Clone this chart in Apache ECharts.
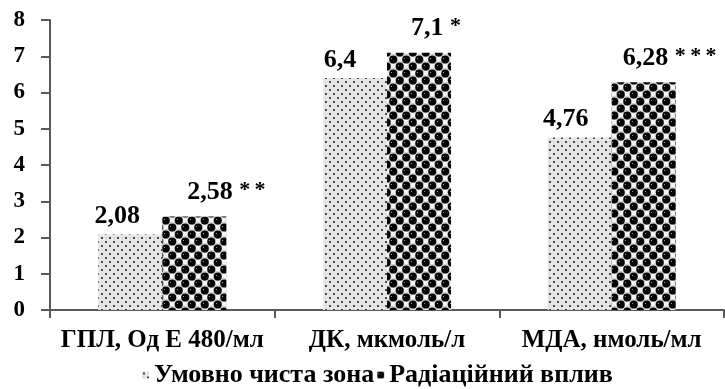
<!DOCTYPE html>
<html>
<head>
<meta charset="utf-8">
<script src="https://cdn.jsdelivr.net/npm/echarts@6/dist/echarts.min.js"></script>
<style>
html,body{margin:0;padding:0;background:#fff;}
#chart{width:725px;height:389px;}
</style>
</head>
<body>
<div id="chart"></div>
<script>
// ---- data ----
const categories = ['ГПЛ, Од Е 480/мл', 'ДК, мкмоль/л', 'МДА, нмоль/мл'];
const seriesNames = ['Умовно чиста зона', 'Радіаційний вплив'];
const cleanZone = [2.08, 6.4, 4.76];
const radiation = [2.58, 7.1, 6.28];
const significance = ['**', '*', '***'];
const yTicks = [0, 1, 2, 3, 4, 5, 6, 7, 8];

// ---- label layout (styling) ----
const cleanLabelShift = [-13, -15, -14];
const radLabelShift = [32, 17, 26];

function fmt(v) { return String(v).replace('.', ','); }

function makeDotPattern() {
  const c = document.createElement('canvas');
  c.width = 8; c.height = 8;
  const g = c.getContext('2d');
  g.fillStyle = '#e6e6e6';
  g.fillRect(0, 0, 8, 8);
  g.fillStyle = '#4a4a4a';
  g.fillRect(1, 1, 2, 2);
  g.fillRect(5, 5, 2, 2);
  g.fillStyle = '#cccccc';
  g.fillRect(5, 1, 1, 1);
  g.fillRect(1, 5, 1, 1);
  return c;
}
function makeBallPattern() {
  const s = 13, h = 14;
  const c = document.createElement('canvas');
  c.width = s; c.height = h;
  const g = c.getContext('2d');
  g.fillStyle = '#d4d4d4';
  g.fillRect(0, 0, s, h);
  g.fillStyle = '#f4f4f4';
  g.fillRect(8, 1, 4, 4);
  g.fillRect(1, 8, 4, 4);
  const balls = [[3.25, 3.5], [9.75, 10.5], [-3.25, 10.5], [16.25, 3.5], [3.25, 17.5], [9.75, -3.5]];
  balls.forEach(([x, y]) => {
    g.beginPath();
    g.arc(x, y, 4.0, 0, Math.PI * 2);
    g.fillStyle = '#050505';
    g.fill();
    g.fillStyle = '#9a9a9a';
    g.fillRect(Math.round(x - 2), Math.round(y - 2), 1, 1);
  });
  return c;
}

const dotPat = { image: makeDotPattern(), repeat: 'repeat' };
const ballPat = { image: makeBallPattern(), repeat: 'repeat' };

const FONT = "'Liberation Serif', 'Times New Roman', serif";
const legendText = { fontFamily: FONT, fontWeight: 'bold', fontSize: 26, color: '#000' };

const chart = echarts.init(document.getElementById('chart'), null, { renderer: 'canvas' });
chart.setOption({
  animation: false,
  backgroundColor: '#fff',
  textStyle: { fontFamily: FONT },
  grid: { left: 50, right: 1, top: 20, bottom: 79, containLabel: false },
  legend: {
    data: seriesNames,
    bottom: 1,
    left: 142,
    padding: 0,
    itemGap: 3,
    itemWidth: 7,
    itemHeight: 7,
    icon: 'rect',
    textStyle: legendText
  },
  xAxis: {
    type: 'category',
    data: categories,
    axisLine: { lineStyle: { color: '#595959', width: 2 } },
    axisTick: { show: true, length: 8, lineStyle: { color: '#595959', width: 2 } },
    axisLabel: { fontFamily: FONT, fontWeight: 'bold', fontSize: 25, color: '#000', margin: 18, interval: 0 }
  },
  yAxis: {
    type: 'value',
    min: yTicks[0],
    max: yTicks[yTicks.length - 1],
    interval: 1,
    splitLine: { show: false },
    axisLine: { show: true, lineStyle: { color: '#595959', width: 2 } },
    axisTick: { show: true, length: 9, lineStyle: { color: '#595959', width: 2 } },
    axisLabel: { fontFamily: FONT, fontWeight: 'bold', fontSize: 23, color: '#000', margin: 25 }
  },
  series: [
    {
      name: seriesNames[0],
      type: 'bar',
      barGap: '0%',
      barCategoryGap: '43%',
      itemStyle: { color: dotPat },
      data: cleanZone.map((v, i) => ({
        value: v,
        label: { offset: [cleanLabelShift[i], 0] }
      })),
      label: {
        show: true,
        position: 'top',
        distance: 5,
        formatter: p => fmt(p.value),
        fontFamily: FONT, fontWeight: 'bold', fontSize: 26, color: '#000'
      }
    },
    {
      name: seriesNames[1],
      type: 'bar',
      itemStyle: { color: ballPat },
      data: radiation.map((v, i) => ({
        value: v,
        label: { offset: [radLabelShift[i], -6] }
      })),
      label: {
        show: true,
        position: 'top',
        distance: 5,
        formatter: p => fmt(p.value) + ' {s|' + significance[p.dataIndex].split('').join('\u2009') + '}',
        fontFamily: FONT, fontWeight: 'bold', fontSize: 26, color: '#000',
        rich: { s: { fontFamily: FONT, fontWeight: 'bold', fontSize: 22, color: '#000', verticalAlign: 'top' } }
      }
    }
  ]
});
</script>
</body>
</html>
